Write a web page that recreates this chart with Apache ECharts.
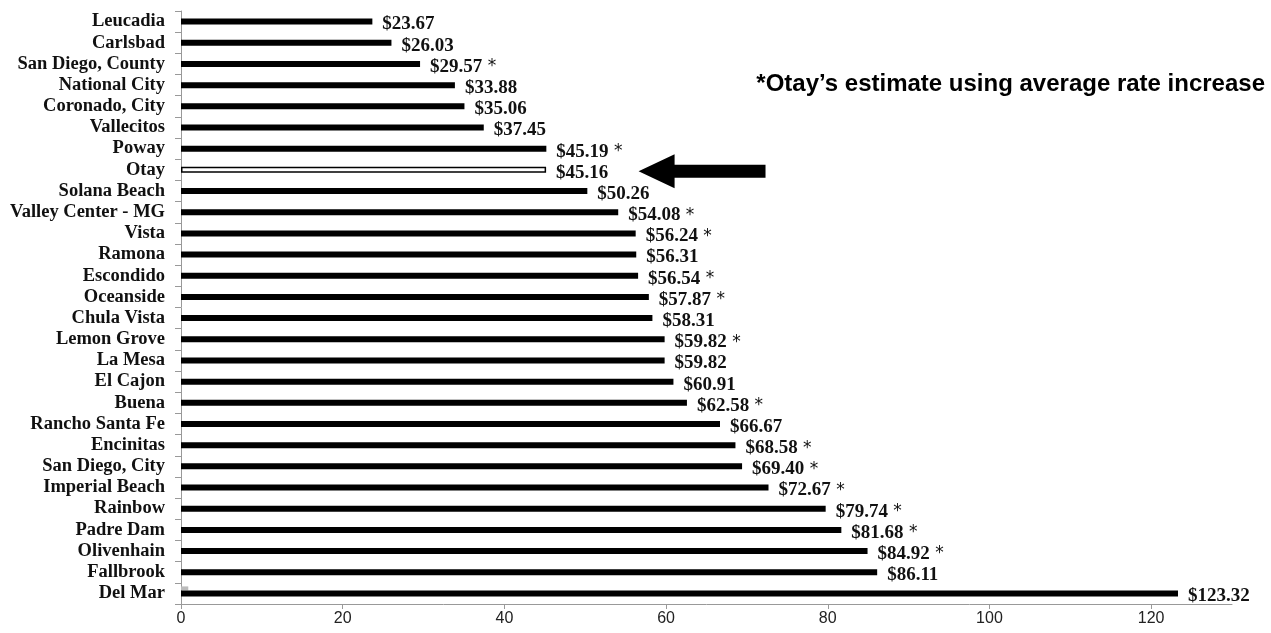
<!DOCTYPE html>
<html><head><meta charset="utf-8">
<script src="https://cdn.jsdelivr.net/npm/echarts@6/dist/echarts.min.js"></script>
<style>html,body{margin:0;padding:0;background:#fff}#c{width:1271px;height:633px}</style>
</head><body><div id="c"></div>
<script>
const categories = ["Leucadia","Carlsbad","San Diego, County","National City","Coronado, City","Vallecitos","Poway","Otay","Solana Beach","Valley Center - MG","Vista","Ramona","Escondido","Oceanside","Chula Vista","Lemon Grove","La Mesa","El Cajon","Buena","Rancho Santa Fe","Encinitas","San Diego, City","Imperial Beach","Rainbow","Padre Dam","Olivenhain","Fallbrook","Del Mar"];
const values = [23.67,26.03,29.57,33.88,35.06,37.45,45.19,45.16,50.26,54.08,56.24,56.31,56.54,57.87,58.31,59.82,59.82,60.91,62.58,66.67,68.58,69.40,72.67,79.74,81.68,84.92,86.11,123.32];
const estimated = [false,false,true,false,false,false,true,false,false,true,true,false,true,true,false,true,false,false,true,false,true,true,true,true,true,true,false,false];
const greyValues = [null,null,null,null,null,null,null,null,null,null,null,null,null,null,null,null,null,null,null,null,null,null,null,null,null,null,null,0.9];
const highlight = "Otay";
const xTicks = [0,20,40,60,80,100,120];
const note = "*Otay\u2019s estimate using average rate increase";

const serif = 'Liberation Serif, Times New Roman, serif';
const chart = echarts.init(document.getElementById('c'));
const data = values.map((v,i)=>({
  value: v,
  itemStyle: categories[i]===highlight ? {color:'#fff', borderColor:'#000', borderWidth:1.5} : {color:'#000'},
  label: {formatter: '{v|$' + v.toFixed(2) + '}' + (estimated[i] ? '{a| *}' : '')}
}));
chart.setOption({
  animation:false,
  grid:{left:181, right:39, top:11, bottom:29},
  xAxis:{type:'value', min:0, max:130, interval:20,
    splitLine:{show:false},
    axisLine:{show:true, lineStyle:{color:'#999'}},
    axisTick:{show:true, length:5, lineStyle:{color:'#999'}},
    axisLabel:{showMaxLabel:false, color:'#222', fontFamily:'Liberation Sans, Arial', fontSize:16, margin:7,
      formatter: v => xTicks.includes(v) ? String(v) : ''}
  },
  yAxis:{type:'category', inverse:true, data:categories,
    axisLine:{show:true, lineStyle:{color:'#999'}},
    axisTick:{show:true, length:6, lineStyle:{color:'#999'}},
    axisLabel:{interval:0, color:'#111', fontFamily:serif, fontWeight:'bold', fontSize:18.5, margin:16}
  },
  series:[{type:'bar', data:data, barWidth:6,
    label:{show:true, position:'right', distance:10, offset:[0,3],
      rich:{
        v:{fontFamily:serif, fontWeight:'bold', fontSize:19, color:'#111'},
        a:{fontFamily:'DejaVu Sans, sans-serif', fontWeight:'normal', fontSize:17, color:'#111'}
      }}
  },{
    type:'pictorialBar', data:greyValues, symbol:'rect', symbolRepeat:false,
    symbolSize:['100%',4], symbolOffset:[0,-5], symbolPosition:'start',
    itemStyle:{color:'#bbb'}, z:1
  }]
});
const idx = categories.indexOf(highlight);
const tip = chart.convertToPixel({gridIndex:0}, [56.6, idx]);
const tail = chart.convertToPixel({gridIndex:0}, [72.3, idx]);
const y = tip[1] + 1.5, x0 = tip[0], x1 = tail[0];
chart.setOption({graphic:[
  {type:'polygon', shape:{points:[[x0,y],[x0+36,y-17],[x0+36,y-6.5],[x1,y-6.5],[x1,y+6.5],[x0+36,y+6.5],[x0+36,y+17]]}, style:{fill:'#000'}},
  {type:'text', right:6, top:72, style:{text:note, font:'bold 24px Liberation Sans, Arial, sans-serif', fill:'#000'}}
]});
</script></body></html>
